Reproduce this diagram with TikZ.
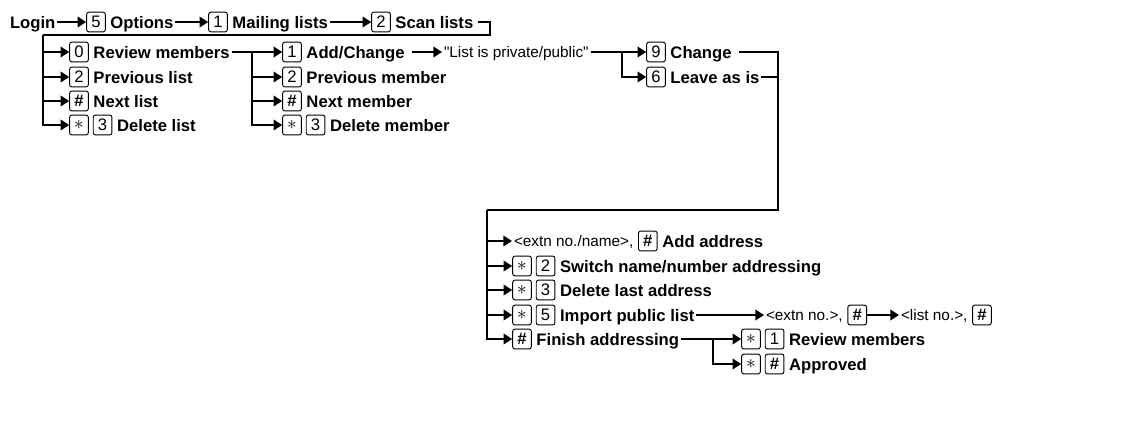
\documentclass[tikz,border=0pt]{standalone}
\usepackage{fontspec}
\setmainfont{Liberation Sans}
\usetikzlibrary{arrows.meta,positioning}

\newcommand{\keyhash}{\textbf{\#}}
\newcommand{\keystar}{\raisebox{0.7pt}{\Large$\ast$}}

\begin{document}
\begin{tikzpicture}[x=0.75pt,y=-0.75pt,line width=1.2pt,>={Triangle[length=6.5pt,width=8pt]}]
  \tikzstyle{key}=[draw,line width=0.7pt,rounded corners=1.6pt,minimum width=14pt,minimum height=14.8pt,inner sep=0pt,text height=8.6pt,text depth=0pt,font=\fontsize{12.5}{12}\selectfont]
  \tikzstyle{lbl}=[anchor=west,inner sep=0pt,outer sep=1.5pt,text height=9pt,text depth=0pt,font=\fontsize{12.5}{13}\selectfont\bfseries]
  \tikzstyle{note}=[anchor=west,inner sep=0pt,outer sep=1.5pt,text height=8.2pt,text depth=0pt,font=\fontsize{11.5}{12}\selectfont]
  \useasboundingbox (0,0) rectangle (1134,436);

  % top row
  \node[lbl] (login) at (8,22) {Login};
  \node[key] (T-5) at (96,22) {5};
  \node[lbl,right=2pt of T-5] (options) {Options};
  \node[key] (T-1) at (218,22) {1};
  \node[lbl,right=2pt of T-1] (mailing) {Mailing lists};
  \node[key] (T-2) at (381,22) {2};
  \node[lbl,right=2pt of T-2] (scan) {Scan lists};
  \draw[->] (login) -- (T-5);
  \draw[->] (options) -- (T-1);
  \draw[->] (mailing) -- (T-2);
  \coordinate (L-top) at (43,35);
  \draw ([xshift=2pt]scan.east) -- ++(9pt,0) |- (L-top);

  % lists
  \foreach \name/\k/\y/\lab in {a/0/52/Review members,b/2/77/Previous list,c/\keyhash/101/Next list}{
    \node[key] (L-\name) at (79,\y) {\k};
    \node[lbl,right=2pt of L-\name] (Lt-\name) {\lab};
  }
  \node[key] (L-d) at (79,125) {\keystar};
  \node[key,right=3pt of L-d] (L-d2) {3};
  \node[lbl,right=2pt of L-d2] (Lt-d) {Delete list};
  \foreach \name in {a,b,c,d}
    \draw[->] (L-top) |- (L-\name);

  % members
  \coordinate (M-top) at (252,52);
  \foreach \name/\k/\y/\lab in {a/1/52/{Add/Change},b/2/77/Previous member,c/\keyhash/101/Next member}{
    \node[key] (M-\name) at (292,\y) {\k};
    \node[lbl,right=2pt of M-\name] (Mt-\name) {\lab};
  }
  \node[key] (M-d) at (292,125) {\keystar};
  \node[key,right=3pt of M-d] (M-d2) {3};
  \node[lbl,right=2pt of M-d2] (Mt-d) {Delete member};
  \draw (Lt-a) -- (M-top);
  \foreach \name in {a,b,c,d}
    \draw[->] (M-top) |- (M-\name);

  % private / public
  \node[note] (priv) at (442,52) {\textquotedbl List is private/public\textquotedbl};
  \draw[->] ([xshift=4pt]Mt-a.east) -- (priv);
  \coordinate (P-j) at (622,52);
  \draw (priv) -- (P-j);
  \node[key] (R-a) at (656,52) {9};
  \node[lbl,right=2pt of R-a] (Rt-a) {Change};
  \node[key] (R-b) at (656,77) {6};
  \node[lbl,right=2pt of R-b] (Rt-b) {Leave as is};
  \draw[->] (P-j) -- (R-a);
  \draw[->] (P-j) |- (R-b);
  \coordinate (R-j) at (778,52);
  \coordinate (B-top) at (487,210);
  \draw ([xshift=4pt]Rt-a.east) -- (R-j) |- (B-top);
  \draw (Rt-b) -- (Rt-b -| R-j);

  % addressing
  \node[note] (B-a) at (512,241) {<extn no./name>,};
  \node[key,right=2pt of B-a] (B-a2) {\keyhash};
  \node[lbl,right=2pt of B-a2] (Bt-a) {Add address};
  \foreach \name/\k/\y/\lab in {b/2/266/{Switch name/number addressing},c/3/290/Delete last address,d/5/315/Import public list}{
    \node[key] (B-\name) at (522,\y) {\keystar};
    \node[key,right=3pt of B-\name] (B-\name2) {\k};
    \node[lbl,right=2pt of B-\name2] (Bt-\name) {\lab};
  }
  \node[key] (B-e) at (522,339) {\keyhash};
  \node[lbl,right=2pt of B-e] (Bt-e) {Finish addressing};
  \foreach \name in {a,b,c,d,e}
    \draw[->] (B-top) |- (B-\name);

  \node[note] (X-1) at (764,315) {<extn no.>,};
  \node[key,right=2pt of X-1] (X-1k) {\keyhash};
  \node[note] (X-2) at (899,315) {<list no.>,};
  \node[key,right=2pt of X-2] (X-2k) {\keyhash};
  \draw[->] (Bt-d) -- (X-1);
  \draw[->] (X-1k) -- (X-2);

  \coordinate (F-j) at (713,339);
  \draw (Bt-e) -- (F-j);
  \node[key] (F-a) at (751,339) {\keystar};
  \node[key,right=3pt of F-a] (F-a2) {1};
  \node[lbl,right=2pt of F-a2] (Ft-a) {Review members};
  \node[key] (F-b) at (751,364) {\keystar};
  \node[key,right=3pt of F-b] (F-b2) {\keyhash};
  \node[lbl,right=2pt of F-b2] (Ft-b) {Approved};
  \draw[->] (F-j) -- (F-a);
  \draw[->] (F-j) |- (F-b);
\end{tikzpicture}
\end{document}
